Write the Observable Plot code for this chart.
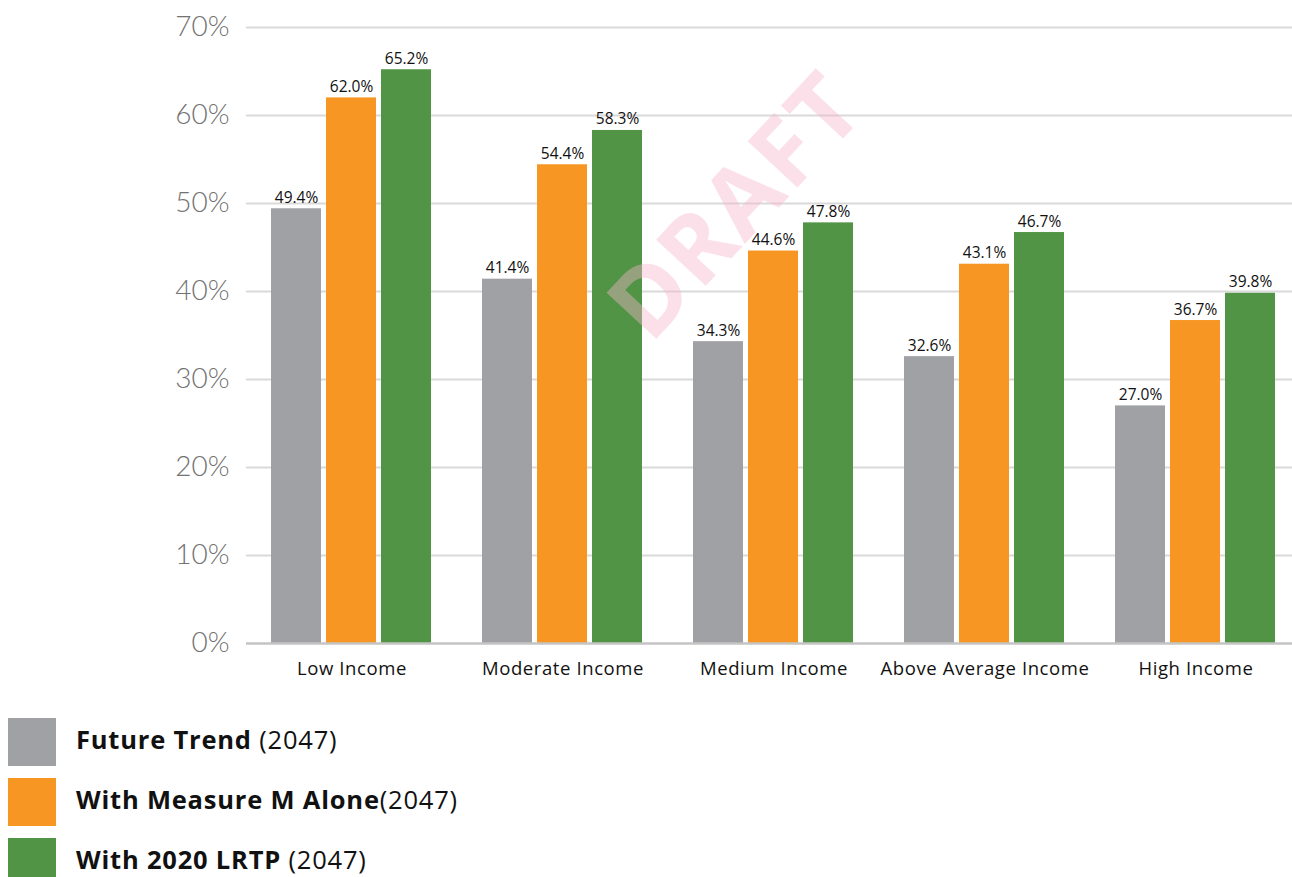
<!DOCTYPE html>
<html>
<head>
<meta charset="utf-8">
<script src="https://cdn.jsdelivr.net/npm/d3@7"></script>
<script src="https://cdn.jsdelivr.net/npm/@observablehq/plot@0.6"></script>
<style>
  html, body { margin: 0; padding: 0; background: #fff; }
  #wrap { position: relative; width: 1292px; height: 877px; overflow: hidden; font-family: Lato, "Noto Sans", sans-serif; }
  #watermark {
    position: absolute; left: 733px; top: 203px;
    transform: translate(-50%, -50%) rotate(-47deg);
    font: 700 95px "Noto Sans", Lato, sans-serif; letter-spacing: 3px; line-height: 1;
    color: rgba(245, 180, 205, 0.42); pointer-events: none; white-space: nowrap;
  }
  #legend { position: absolute; left: 8px; top: 718px; }
  .row { display: flex; align-items: center; height: 48px; margin-bottom: 12px; }
  .sw { width: 48px; height: 48px; margin-right: 20px; flex: none; }
  .lab { font-size: 25.5px; line-height: 1; color: #111; font-family: "Open Sans", "Noto Sans", sans-serif; letter-spacing: 0.8px; position: relative; top: -2px; }
  .lab b { font-weight: 700; }
  #chart svg text.xlab, #chart svg .xlab text { letter-spacing: 0.6px; }
</style>
</head>
<body>
<div id="wrap">
  <div id="chart"></div>
  <div id="legend"></div>
  <div id="watermark">DRAFT</div>
</div>
<script>
const categories = ["Low Income", "Moderate Income", "Medium Income", "Above Average Income", "High Income"];
const series = ["Future Trend", "With Measure M Alone", "With 2020 LRTP"];
const seriesSuffix = [" (2047)", "(2047)", " (2047)"];
const colors = ["#a0a1a5", "#f79622", "#529445"];
const futureTrend = [49.4, 41.4, 34.3, 32.6, 27.0];
const measureM = [62.0, 54.4, 44.6, 43.1, 36.7];
const lrtp = [65.2, 58.3, 47.8, 46.7, 39.8];
const yTicks = [0, 10, 20, 30, 40, 50, 60, 70];

const seriesValues = [futureTrend, measureM, lrtp];
const data = [];
categories.forEach((c, i) => {
  series.forEach((s, j) => data.push({cat: c, series: s, value: seriesValues[j][i]}));
});

const chart = Plot.plot({
  width: 1292,
  height: 690,
  marginLeft: 245,
  marginRight: -10,
  marginTop: 27,
  marginBottom: 47,
  style: {fontFamily: "'Open Sans', 'Noto Sans', sans-serif", background: "transparent"},
  fx: {domain: categories, padding: 0, label: null},
  x: {domain: series, paddingInner: 0.09, paddingOuter: 0.43, axis: null},
  y: {domain: [0, 70], axis: null},
  color: {domain: series, range: colors},
  marks: [
    Plot.ruleY(yTicks.filter(d => d > 0), {stroke: "#d9d9d9", strokeWidth: 2}),
    Plot.axisY(yTicks, {anchor: "left", tickSize: 0, tickPadding: 17, fontSize: 28, fontWeight: 300, fontFamily: "Lato, sans-serif", fill: "#737373", tickFormat: d => d + "%", label: null}),
    Plot.axisFx({anchor: "bottom", tickSize: 0, tickPadding: 18, fontSize: 18.5, fill: "#111", label: null, className: "xlab"}),
    Plot.barY(data, {fx: "cat", x: "series", y: "value", fill: "series"}),
    Plot.ruleY([0], {stroke: "#c4c4c4", strokeWidth: 2.5}),
    Plot.text(data, {fx: "cat", x: "series", y: "value", text: d => d.value.toFixed(1) + "%", dy: -6, lineAnchor: "bottom", fontSize: 15.5, fill: "#111"})
  ]
});
document.getElementById("chart").appendChild(chart);

const legend = document.getElementById("legend");
series.forEach((s, j) => {
  const row = document.createElement("div");
  row.className = "row";
  row.innerHTML = `<div class="sw" style="background:${colors[j]}"></div><div class="lab"><b>${s}</b>${seriesSuffix[j]}</div>`;
  legend.appendChild(row);
});
</script>
</body>
</html>
